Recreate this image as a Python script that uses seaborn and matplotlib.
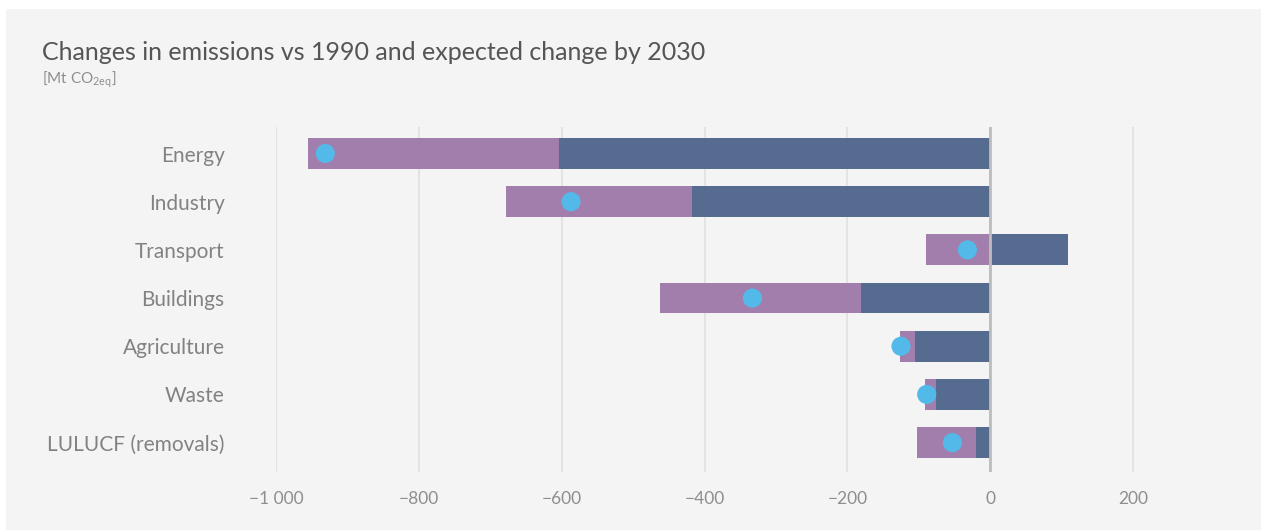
import numpy as np
import pandas as pd
import seaborn as sns
import matplotlib.pyplot as plt
from matplotlib.patches import Rectangle

# values (Mt CO2eq vs 1990)
sectors = ["Energy", "Industry", "Transport", "Buildings", "Agriculture", "Waste", "LULUCF (removals)"]
change_now = [-604, -417, 109, -181, -105, -76, -20]
change_2030 = [-955, -678, -90, -462, -126, -92, -102]
target_2030 = [-931, -587, -32, -333, -125, -89, -53]
xticks = [-1000, -800, -600, -400, -200, 0, 200]
xtick_labels = ["\u22121 000", "\u2212800", "\u2212600", "\u2212400", "\u2212200", "0", "200"]

dark = "#566b90"
purple = "#a27eac"
dot = "#53b9e9"
panel = "#f4f4f4"

sns.set_style("white")
plt.rcParams['font.family'] = ['Lato', 'DejaVu Sans']

df = pd.DataFrame({"sector": sectors, "now": change_now, "y2030": change_2030, "target": target_2030})

fig = plt.figure(figsize=(12.61, 5.30), dpi=100, facecolor="white")
fig.patches.append(Rectangle((6/1261, 0), 1, 1-9/530, transform=fig.transFigure,
                             facecolor=panel, edgecolor="none", zorder=-10))
ax = fig.add_axes([276/1261, 1-472/530, (1226-276)/1261, (472-127)/530])
ax.set_facecolor(panel)

# grid first so bars sit on top
for t in xticks:
    ax.axvline(t, color="#e3e3e3", lw=1.5, zorder=0)

sns.barplot(data=df, x="y2030", y="sector", color=purple, width=0.64, ax=ax, zorder=2,
            saturation=1, edgecolor="none", linewidth=0)
sns.barplot(data=df, x="now", y="sector", color=dark, width=0.64, ax=ax, zorder=3,
            saturation=1, edgecolor="none", linewidth=0)
sns.scatterplot(data=df, x="target", y="sector", color=dot, s=190, edgecolor="none", ax=ax, zorder=5)
ax.axvline(0, color="#bdbdbd", lw=2, zorder=4)

ax.set_xlim(-1000, 330)
ax.set_ylim(6.61, -0.55)
ax.set_xticks(xticks)
ax.set_xticklabels(xtick_labels)
ax.set_xlabel("")
ax.set_ylabel("")
ax.tick_params(axis="x", length=0, pad=14, labelsize=12.5, labelcolor="#8e8e8e")
ax.tick_params(axis="y", length=9, width=1.5, color="#e3e3e3", pad=28, labelsize=15, labelcolor="#828282")
for s in ax.spines.values():
    s.set_visible(False)

fig.text(42/1261, 1-52/530, "Changes in emissions vs 1990 and expected change by 2030",
         fontsize=18, color="#555555", va="center", ha="left")
fig.text(42/1261, 1-80/530, r"[Mt CO$_{\mathregular{2eq}}$]", fontsize=11, color="#8e8e8e", va="center", ha="left")

fig.savefig("out.png", dpi=100, facecolor="white")
